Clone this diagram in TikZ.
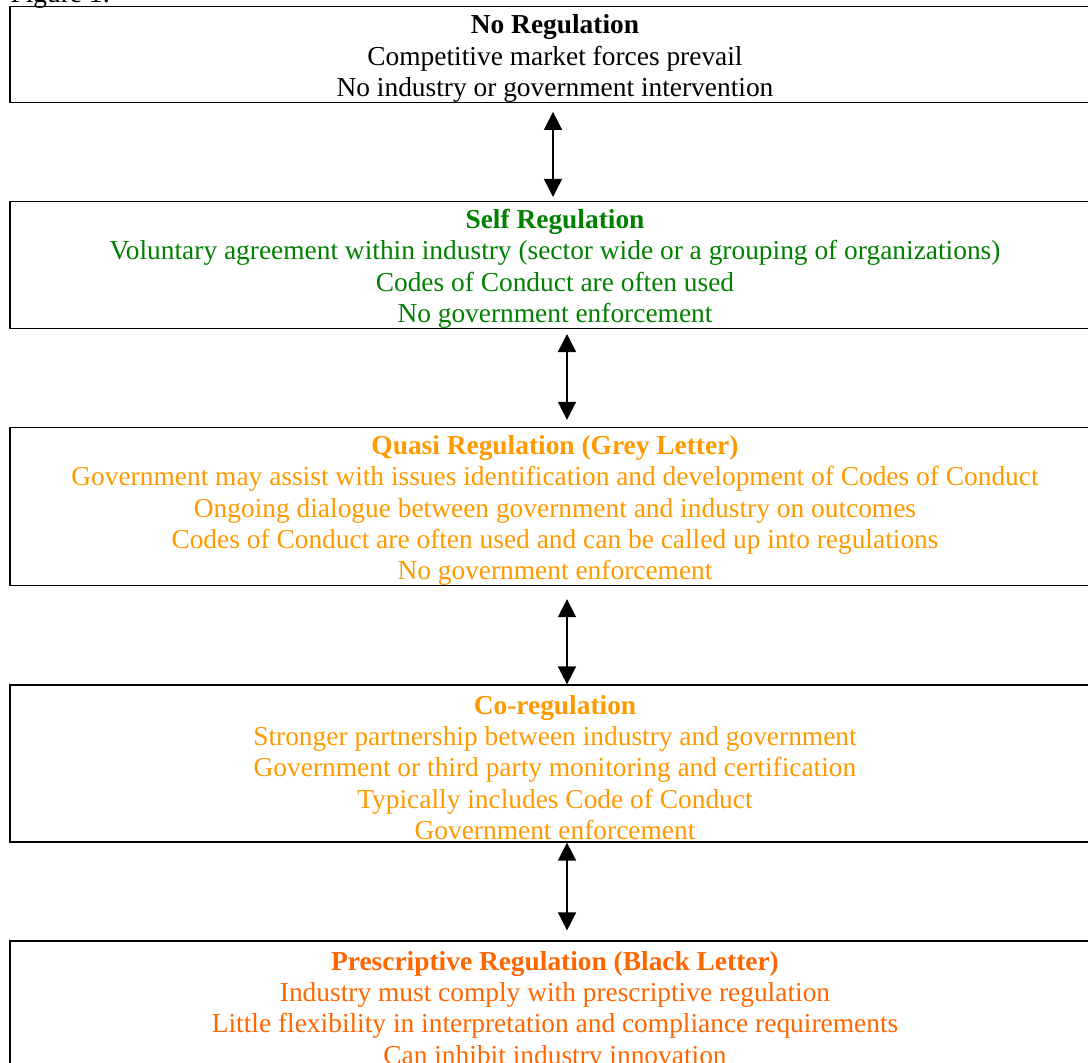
\documentclass[tikz,border=0pt]{standalone}
\usepackage{fontspec}
\setmainfont{Liberation Serif}
\usepackage{tikz}
\usetikzlibrary{arrows.meta}

\definecolor{selfgreen}{RGB}{0,128,0}
\definecolor{quasiorange}{RGB}{255,153,0}
\definecolor{prescorange}{RGB}{255,102,0}

\newcommand{\topstrut}{\rule{0pt}{27pt}}

\begin{document}
\begin{tikzpicture}[x=1pt,y=-1pt]
        \tikzstyle{level} = [draw, line width=1.2pt, rectangle, minimum width=1090pt, inner sep=0pt, align=center, font=\fontsize{27.4}{31.3}\selectfont]
        \tikzstyle{link} = [line width=1.5pt, {Triangle[width=18pt,length=18pt]}-{Triangle[width=18pt,length=18pt]}]

        \clip (0,0) rectangle (1088,1063);

        % Etiqueta de la figura
        \node[anchor=base west, font=\fontsize{27.4}{31.3}\selectfont] (figlabel) at (7,2.5) {Figure 1:};

        % Niveles de regulacion
        \node[level, minimum height=93pt] (noreg) at (555,54.5) {\topstrut\textbf{No Regulation}\\Competitive market forces prevail\\No industry or government intervention};
        \node[level, minimum height=126pt, text=selfgreen] (selfreg) at (555,265) {\topstrut\textbf{Self Regulation}\\Voluntary agreement within industry (sector wide or a grouping of organizations)\\Codes of Conduct are often used\\No government enforcement};
        \node[level, minimum height=157pt, text=quasiorange] (quasireg) at (555,506.5) {\topstrut\textbf{Quasi Regulation (Grey Letter)}\\Government may assist with issues identification and development of Codes of Conduct\\Ongoing dialogue between government and industry on outcomes\\Codes of Conduct are often used and can be called up into regulations\\No government enforcement};
        \node[level, minimum height=157pt, text=quasiorange] (coreg) at (555,763.5) {\topstrut\textbf{Co-regulation}\\Stronger partnership between industry and government\\Government or third party monitoring and certification\\Typically includes Code of Conduct\\Government enforcement};
        \node[level, minimum height=131pt, text=prescorange] (prescreg) at (555,1006.5) {\topstrut\textbf{Prescriptive Regulation (Black Letter)}\\Industry must comply with prescriptive regulation\\Little flexibility in interpretation and compliance requirements\\Can inhibit industry innovation};

        % Flechas entre niveles
        \draw[link, shorten <=9pt, shorten >=4pt] ([xshift=-2pt]noreg.south) -- ([xshift=-2pt]selfreg.north);
        \draw[link, shorten <=5pt, shorten >=7pt] ([xshift=12pt]selfreg.south) -- ([xshift=12pt]quasireg.north);
        \draw[link, shorten <=13pt] ([xshift=12pt]quasireg.south) -- ([xshift=12pt]coreg.north);
        \draw[link, shorten >=10pt] ([xshift=12pt]coreg.south) -- ([xshift=12pt]prescreg.north);
    \end{tikzpicture}
\end{document}
